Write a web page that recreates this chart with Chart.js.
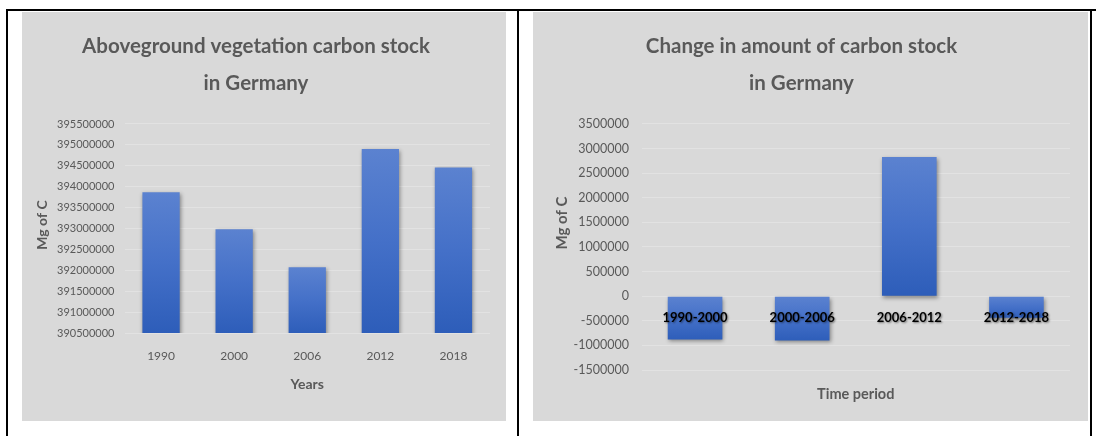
<!DOCTYPE html>
<html>
<head>
<meta charset="utf-8">
<title>Carbon stock in Germany</title>
<script src="https://cdn.jsdelivr.net/npm/chart.js@4.4.1/dist/chart.umd.min.js"></script>
<style>
    html, body { margin: 0; padding: 0; background: #ffffff; }
    body { position: relative; width: 1096px; height: 436px; overflow: hidden; }
    .rule { position: absolute; background: #000000; }
    .panel { position: absolute; top: 12px; height: 409px; background: #d9d9d9; }
    .panel canvas { display: block; }
</style>
</head>
<body>
<div class="rule" style="left:6px; top:9px; width:1090px; height:2px;"></div>
<div class="rule" style="left:6px; top:9px; width:2px; height:427px;"></div>
<div class="rule" style="left:517px; top:9px; width:2px; height:427px;"></div>
<div class="rule" style="left:1090px; top:9px; width:2px; height:427px;"></div>

<div class="panel" style="left:22px; width:484px;"><canvas id="stockChart" width="484" height="409"></canvas></div>
<div class="panel" style="left:533px; width:555px;"><canvas id="changeChart" width="555" height="409"></canvas></div>

<script>
// Aboveground vegetation carbon stock (Mg of C)
const years = ["1990", "2000", "2006", "2012", "2018"];
const stockValues = [393870000, 392980000, 392070000, 394900000, 394460000];
const stockMin = 390500000;
const stockMax = 395500000;

// Change between survey years (Mg of C)
const periods = ["1990-2000", "2000-2006", "2006-2012", "2012-2018"];
const changeValues = [-880000, -900000, 2830000, -440000];
const changeMin = -1500000;
const changeMax = 3500000;

const tickStep = 500000;

const GREY = "#595959";
const GRID = "rgba(255, 255, 255, 0.25)";
const FONT = "Lato, 'Open Sans', sans-serif";

// each bar gets its own light-to-dark gradient, top to bottom
function barGradient(c) {
    const chart = c.chart;
    const y = chart.scales.y;
    if (!chart.chartArea || !y || c.raw === undefined) return "#4472c4";
    const a = y.getPixelForValue(c.raw);
    const b = y.getBasePixel();
    const top = Math.min(a, b), bottom = Math.max(a, b);
    const g = chart.ctx.createLinearGradient(0, top, 0, bottom + 1);
    g.addColorStop(0, "#5b82d0");
    g.addColorStop(0.5, "#4470c8");
    g.addColorStop(1, "#2d5db9");
    return g;
}

const barShadow = {
    id: "barShadow",
    beforeDatasetsDraw(chart) {
        const ctx = chart.ctx;
        ctx.save();
        ctx.shadowColor = "rgba(0, 0, 0, 0.4)";
        ctx.shadowBlur = 4;
        ctx.shadowOffsetX = 1;
        ctx.shadowOffsetY = 2;
    },
    afterDatasetsDraw(chart) {
        chart.ctx.restore();
    }
};

// soft shadow behind the period labels that sit over the bars
const labelShadow = {
    id: "labelShadow",
    afterDatasetsDraw(chart) {
        const ctx = chart.ctx;
        ctx.save();
        ctx.shadowColor = "rgba(0, 0, 0, 0.45)";
        ctx.shadowBlur = 2;
        ctx.shadowOffsetX = 1;
        ctx.shadowOffsetY = 1;
    },
    afterDraw(chart) {
        chart.ctx.restore();
    }
};

// rotated value-axis caption
const sideTitle = {
    id: "sideTitle",
    afterDraw(chart, args, opts) {
        const ctx = chart.ctx;
        ctx.save();
        ctx.shadowColor = "transparent";
        ctx.translate(opts.x, opts.y);
        ctx.rotate(-Math.PI / 2);
        ctx.font = "bold " + opts.size + "px " + FONT;
        ctx.fillStyle = GREY;
        ctx.textAlign = "center";
        ctx.textBaseline = "middle";
        ctx.fillText(opts.text, 0, 0);
        ctx.restore();
    }
};

const plainNumber = v => String(v);

function chartTitle(lines) {
    return {
        display: true,
        text: lines,
        color: GREY,
        font: { family: FONT, size: 20.5, weight: "bold", lineHeight: 1.79 },
        padding: { top: 16, bottom: 22.6 }
    };
}

// Left: carbon stock per year
new Chart(document.getElementById("stockChart"), {
    type: "bar",
    data: {
        labels: years,
        datasets: [{
            data: stockValues,
            backgroundColor: barGradient,
            borderWidth: 0,
            categoryPercentage: 1,
            barPercentage: 0.51
        }]
    },
    options: {
        responsive: false,
        animation: false,
        layout: { padding: { left: 0, right: 16, top: 0, bottom: 0 } },
        plugins: {
            legend: { display: false },
            tooltip: { enabled: false },
            title: chartTitle(["Aboveground vegetation carbon stock", "in Germany"]),
            sideTitle: { text: "Mg of C", x: 20, y: 213, size: 14 }
        },
        scales: {
            x: {
                grid: { display: false, drawTicks: false },
                border: { display: false },
                ticks: { color: GREY, font: { family: FONT, size: 12 }, padding: 15.5 },
                title: {
                    display: true, text: "Years", color: GREY,
                    font: { family: FONT, size: 14, weight: "bold" },
                    padding: { top: 0, bottom: 28 }
                },
                afterFit: s => { s.height = 88; }
            },
            y: {
                min: stockMin,
                max: stockMax,
                beginAtZero: false,
                grid: { color: GRID, drawTicks: false },
                border: { display: false },
                ticks: { stepSize: tickStep, color: GREY, font: { family: FONT, size: 11 }, padding: 10, callback: plainNumber },
                afterFit: s => { s.width = 102.5; }
            }
        }
    },
    plugins: [barShadow, sideTitle]
});

// Right: change in carbon stock per period
new Chart(document.getElementById("changeChart"), {
    type: "bar",
    data: {
        labels: periods,
        datasets: [{
            data: changeValues,
            backgroundColor: barGradient,
            borderWidth: 0,
            categoryPercentage: 1,
            barPercentage: 0.51
        }]
    },
    options: {
        responsive: false,
        animation: false,
        layout: { padding: { left: 0, right: 18, top: 0, bottom: 0 } },
        plugins: {
            legend: { display: false },
            tooltip: { enabled: false },
            title: chartTitle(["Change in amount of carbon stock", "in Germany"]),
            subtitle: {
                display: true,
                position: "bottom",
                fullSize: false,
                text: "Time period",
                color: GREY,
                font: { family: FONT, size: 14.5, weight: "bold", lineHeight: 1.2 },
                padding: { top: 15.5, bottom: 18.1 }
            },
            sideTitle: { text: "Mg of C", x: 29, y: 211, size: 15 }
        },
        scales: {
            x: {
                position: { y: 0 },
                grid: { display: false, drawTicks: false },
                border: { display: false },
                ticks: {
                    z: 1,
                    color: "#000000",
                    font: { family: FONT, size: 13, weight: "bold" },
                    padding: 14
                }
            },
            y: {
                min: changeMin,
                max: changeMax,
                grid: { color: GRID, drawTicks: false },
                border: { display: false },
                ticks: { stepSize: tickStep, color: GREY, font: { family: FONT, size: 12.5 }, padding: 12.5, callback: plainNumber },
                afterFit: s => { s.width = 108.5; }
            }
        }
    },
    plugins: [barShadow, labelShadow, sideTitle]
});
</script>
</body>
</html>
